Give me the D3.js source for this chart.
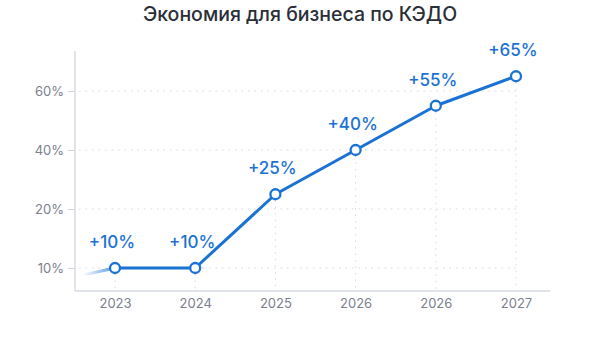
<!DOCTYPE html>
<html lang="ru">
<head>
<meta charset="utf-8">
<script src="https://cdn.jsdelivr.net/npm/d3@7/dist/d3.min.js"></script>
<style>
  html, body { margin: 0; padding: 0; background: #ffffff; }
  svg { display: block; font-family: Inter, "Noto Sans", sans-serif; }
</style>
</head>
<body>
<svg id="chart" width="600" height="340"></svg>
<script>
// Savings for business from electronic HR document flow (КЭДО)
const title = "Экономия для бизнеса по КЭДО";
const years = ["2023", "2024", "2025", "2026", "2026", "2027"];
const savings = [10, 10, 25, 40, 55, 65];
const pointLabels = ["+10%", "+10%", "+25%", "+40%", "+55%", "+65%"];
const yTicks = [10, 20, 40, 60];

const W = 600, H = 340;
const frame = { left: 75, right: 550, top: 51, bottom: 291 };
const blue = "#1a72d4";
const gridColor = "#d3d8e1";

const svg = d3.select("#chart");

// Gradient for the faded lead-in stroke before the first point
const defs = svg.append("defs");
const grad = defs.append("linearGradient")
  .attr("id", "leadIn").attr("x1", "0%").attr("x2", "100%").attr("y1", "0%").attr("y2", "0%");
grad.append("stop").attr("offset", "0%").attr("stop-color", blue).attr("stop-opacity", 0);
grad.append("stop").attr("offset", "100%").attr("stop-color", blue).attr("stop-opacity", 0.75);

// Category positions (indices keep the duplicate year distinct)
const x = d3.scalePoint()
  .domain(d3.range(years.length))
  .range([frame.left + 40, frame.right - 34]);

// Tick values are spaced evenly along the axis
const yLow = frame.bottom - 23, yHigh = frame.top + 40;
const yStep = (yLow - yHigh) / (yTicks.length - 1);
const y = d3.scaleLinear()
  .domain(yTicks)
  .range(yTicks.map((_, i) => yLow - i * yStep));

// Title
svg.append("text")
  .attr("x", W / 2).attr("y", 21)
  .attr("text-anchor", "middle")
  .attr("font-size", 19.5).attr("font-weight", 500)
  .attr("fill", "#2a2e37")
  .text(title);

// Horizontal dotted gridlines
svg.append("g").selectAll("line").data(yTicks).join("line")
  .attr("x1", frame.left + 4).attr("x2", x(years.length - 1))
  .attr("y1", d => y(d)).attr("y2", d => y(d))
  .attr("stroke", gridColor).attr("stroke-width", 1)
  .attr("stroke-dasharray", "1.5,5");

// Vertical dotted drops from each point to the axis
svg.append("g").selectAll("line").data(savings).join("line")
  .attr("x1", (d, i) => x(i)).attr("x2", (d, i) => x(i))
  .attr("y1", d => y(d) + 6).attr("y2", frame.bottom)
  .attr("stroke", gridColor).attr("stroke-width", 1)
  .attr("stroke-dasharray", "1.5,5");

// Y axis
const yAxis = svg.append("g")
  .attr("transform", `translate(${frame.left},0)`)
  .call(d3.axisLeft(y).tickValues(yTicks).tickFormat(d => d + "%").tickSize(7).tickPadding(4));
yAxis.select(".domain").remove();
yAxis.selectAll(".tick line").attr("stroke", "#cfd4dd");
yAxis.selectAll(".tick text")
  .attr("font-size", 13).attr("fill", "#7a808d")
  .attr("font-family", "Inter, 'Noto Sans', sans-serif");

svg.append("line")
  .attr("x1", frame.left).attr("x2", frame.left)
  .attr("y1", frame.top).attr("y2", frame.bottom)
  .attr("stroke", "#d6dae3").attr("stroke-width", 1.5);

// X axis
const xAxis = svg.append("g")
  .attr("transform", `translate(0,${frame.bottom})`)
  .call(d3.axisBottom(x).tickFormat(i => years[i]).tickSize(0).tickPadding(8));
xAxis.select(".domain").remove();
xAxis.selectAll(".tick text")
  .attr("font-size", 13).attr("fill", "#7a808d")
  .attr("font-family", "Inter, 'Noto Sans', sans-serif");

svg.append("line")
  .attr("x1", frame.left).attr("x2", frame.right)
  .attr("y1", frame.bottom).attr("y2", frame.bottom)
  .attr("stroke", "#d6dae3").attr("stroke-width", 1.5);

// Faded lead-in toward the first point
svg.append("line")
  .attr("x1", frame.left + 8).attr("y1", frame.bottom - 16)
  .attr("x2", x(0)).attr("y2", y(savings[0]))
  .attr("stroke", "url(#leadIn)").attr("stroke-width", 3)
  .attr("stroke-linecap", "round");

// Main line
const line = d3.line()
  .x((d, i) => x(i))
  .y(d => y(d));
svg.append("path")
  .datum(savings)
  .attr("d", line)
  .attr("fill", "none")
  .attr("stroke", blue).attr("stroke-width", 3)
  .attr("stroke-linejoin", "round");

// Point markers
svg.append("g").selectAll("circle").data(savings).join("circle")
  .attr("cx", (d, i) => x(i)).attr("cy", d => y(d))
  .attr("r", 5)
  .attr("fill", "#ffffff")
  .attr("stroke", blue).attr("stroke-width", 2.3);

// Value labels
svg.append("g").selectAll("text").data(savings).join("text")
  .attr("x", (d, i) => x(i) - 3)
  .attr("y", d => y(d) - 20)
  .attr("text-anchor", "middle")
  .attr("font-size", 17).attr("font-weight", 500)
  .attr("fill", blue)
  .text((d, i) => pointLabels[i]);
</script>
</body>
</html>
